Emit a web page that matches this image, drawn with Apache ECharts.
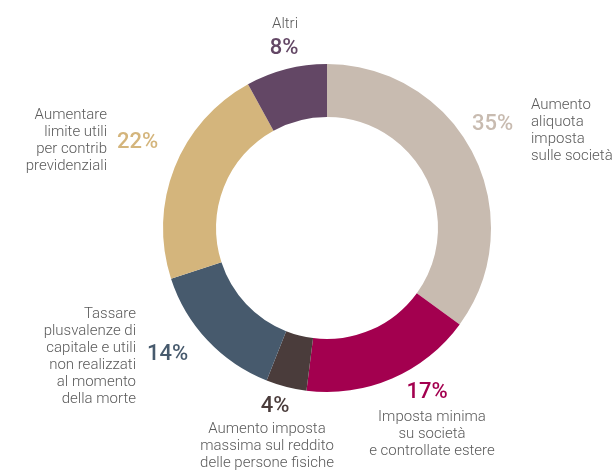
<!DOCTYPE html>
<html>
<head>
<meta charset="utf-8">
<script src="https://cdn.jsdelivr.net/npm/echarts@6/dist/echarts.min.js"></script>
<style>
    html, body { margin: 0; padding: 0; background: #fff; }
    #chart { width: 615px; height: 470px; }
</style>
</head>
<body>
<div id="chart"></div>
<script>
// dati: quote delle proposte (clockwise dalle ore 12)
var categories = [
    'Aumento\naliquota\nimposta\nsulle società',
    'Imposta minima\nsu società\ne controllate estere',
    'Aumento imposta\nmassima sul reddito\ndelle persone fisiche',
    'Tassare\nplusvalenze di\ncapitale e utili\nnon realizzati\nal momento\ndella morte',
    'Aumentare\nlimite utili\nper contrib\nprevidenziali',
    'Altri'
];
var values = [35, 17, 4, 14, 22, 8];
var colors = ['#c8bbb0', '#a3004f', '#4a3c3b', '#475a6d', '#d4b57c', '#634765'];

// posizioni delle etichette (percentuale / testo)
var pctPos = [
    [472, 124, 'left', 'middle'],
    [427, 392, 'center', 'middle'],
    [275, 406, 'center', 'middle'],
    [147, 354, 'left', 'middle'],
    [117, 142, 'left', 'middle'],
    [284, 48, 'center', 'middle']
];
var namePos = [
    [531, 131, 'left', 'middle'],
    [432, 434, 'center', 'middle'],
    [267, 446, 'center', 'middle'],
    [136, 357, 'right', 'middle'],
    [107, 141, 'right', 'middle'],
    [285, 24, 'center', 'middle']
];

var chart = echarts.init(document.getElementById('chart'));

var pieData = values.map(function (v, i) {
    return {
        name: categories[i],
        value: v,
        itemStyle: { color: colors[i] },
        label: { color: colors[i] }
    };
});

function layoutFrom(pos) {
    return function (p) {
        var q = pos[p.dataIndex];
        return { x: q[0], y: q[1], align: q[2], verticalAlign: q[3] };
    };
}

chart.setOption({
    animation: false,
    series: [{
        type: 'pie',
        center: [327, 228],
        radius: [111, 164],
        startAngle: 90,
        clockwise: true,
        avoidLabelOverlap: false,
        silent: true,
        label: {
            show: true,
            formatter: '{c}%',
            fontFamily: 'Roboto',
            fontSize: 22,
            fontWeight: 500
        },
        labelLine: { show: false },
        labelLayout: layoutFrom(pctPos),
        data: pieData
    }, {
        // serie trasparente, solo per i testi descrittivi
        type: 'pie',
        center: [327, 228],
        radius: [111, 164],
        startAngle: 90,
        clockwise: true,
        avoidLabelOverlap: false,
        silent: true,
        itemStyle: { color: 'rgba(0,0,0,0)' },
        label: {
            show: true,
            formatter: '{b}',
            fontFamily: 'Roboto',
            fontSize: 15,
            fontWeight: 300,
            lineHeight: 17,
            color: '#5a5a5a'
        },
        labelLine: { show: false },
        labelLayout: layoutFrom(namePos),
        data: values.map(function (v, i) {
            return { name: categories[i], value: v };
        })
    }]
});
</script>
</body>
</html>
